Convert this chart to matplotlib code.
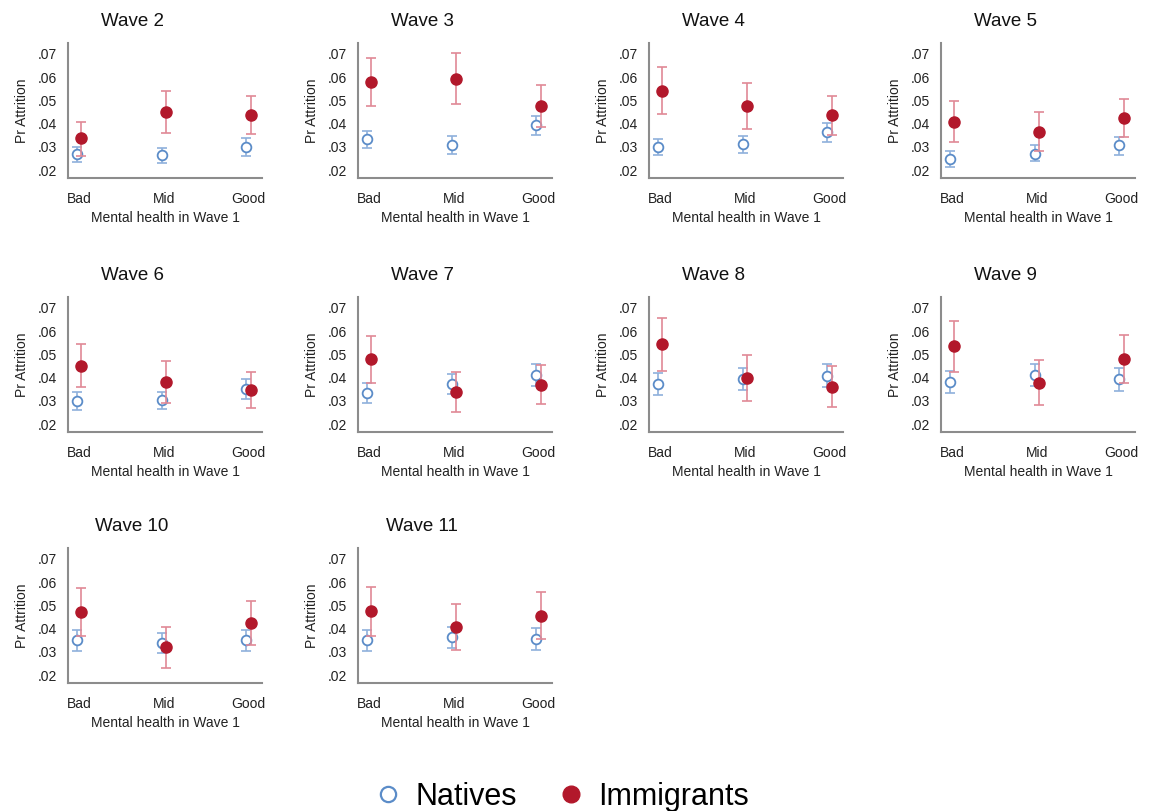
import numpy as np
import matplotlib
matplotlib.use("Agg")
import matplotlib.pyplot as plt
from matplotlib.lines import Line2D
from matplotlib.ticker import FuncFormatter

plt.rcParams['font.family'] = ['Liberation Sans', 'DejaVu Sans']

waves = ["Wave 2", "Wave 3", "Wave 4", "Wave 5", "Wave 6",
         "Wave 7", "Wave 8", "Wave 9", "Wave 10", "Wave 11"]
categories = ["Bad", "Mid", "Good"]

# predicted attrition probabilities with 95% CI bounds, one row per wave
natives = [
    [0.0268, 0.0263, 0.0301],
    [0.0334, 0.0308, 0.0395],
    [0.0298, 0.0312, 0.0363],
    [0.0248, 0.0271, 0.0307],
    [0.0299, 0.0304, 0.0351],
    [0.0335, 0.0371, 0.0412],
    [0.0373, 0.0393, 0.0409],
    [0.0382, 0.0412, 0.0395],
    [0.0349, 0.0339, 0.0349],
    [0.0349, 0.0363, 0.0356],
]
natives_lo = [
    [0.0233, 0.0229, 0.0262],
    [0.0294, 0.0271, 0.0351],
    [0.0263, 0.0274, 0.0321],
    [0.0214, 0.0238, 0.0267],
    [0.0261, 0.0265, 0.0308],
    [0.0292, 0.0328, 0.0364],
    [0.0325, 0.0347, 0.0361],
    [0.0335, 0.0364, 0.0344],
    [0.0303, 0.0296, 0.0303],
    [0.0303, 0.0317, 0.0310],
]
natives_hi = [
    [0.0301, 0.0297, 0.0337],
    [0.0369, 0.0345, 0.0434],
    [0.0334, 0.0348, 0.0402],
    [0.0281, 0.0307, 0.0343],
    [0.0337, 0.0340, 0.0393],
    [0.0376, 0.0415, 0.0458],
    [0.0419, 0.0441, 0.0458],
    [0.0429, 0.0459, 0.0441],
    [0.0393, 0.0381, 0.0393],
    [0.0396, 0.0406, 0.0403],
]
immigrants = [
    [0.0337, 0.0448, 0.0436],
    [0.0581, 0.0593, 0.0477],
    [0.0541, 0.0476, 0.0437],
    [0.0409, 0.0366, 0.0423],
    [0.0452, 0.0380, 0.0347],
    [0.0480, 0.0340, 0.0369],
    [0.0543, 0.0399, 0.0361],
    [0.0534, 0.0379, 0.0480],
    [0.0471, 0.0320, 0.0424],
    [0.0474, 0.0406, 0.0456],
]
immigrants_lo = [
    [0.0260, 0.0358, 0.0354],
    [0.0476, 0.0484, 0.0387],
    [0.0440, 0.0379, 0.0351],
    [0.0321, 0.0281, 0.0341],
    [0.0358, 0.0292, 0.0268],
    [0.0379, 0.0250, 0.0285],
    [0.0429, 0.0299, 0.0273],
    [0.0425, 0.0282, 0.0376],
    [0.0367, 0.0231, 0.0331],
    [0.0367, 0.0306, 0.0356],
]
immigrants_hi = [
    [0.0409, 0.0539, 0.0517],
    [0.0684, 0.0703, 0.0566],
    [0.0642, 0.0575, 0.0521],
    [0.0497, 0.0450, 0.0507],
    [0.0546, 0.0471, 0.0425],
    [0.0578, 0.0426, 0.0454],
    [0.0655, 0.0497, 0.0451],
    [0.0645, 0.0475, 0.0582],
    [0.0577, 0.0406, 0.0520],
    [0.0579, 0.0506, 0.0556],
]
yticks = [0.02, 0.03, 0.04, 0.05, 0.06, 0.07]

NAT_COLOR = "#5b8cc8"
NAT_ERR = "#8fb0dc"
IMM_COLOR = "#b2182b"
IMM_ERR = "#e08996"
SPINE = "#8c8c8c"

W, H = 1150, 811
fig = plt.figure(figsize=(W / 100, H / 100), dpi=100)

lefts = [68, 358, 649, 941]
tops = [43, 297, 548]
ax_w, ax_h = 194, 135

x = np.arange(len(categories))
off = 0.025
fmt = FuncFormatter(lambda v, _: ("%.2f" % v).lstrip("0"))

for i, wave in enumerate(waves):
    r, c = divmod(i, 4)
    ax = fig.add_axes([lefts[c] / W, 1 - (tops[r] + ax_h) / H, ax_w / W, ax_h / H])

    n = np.array(natives[i])
    m = np.array(immigrants[i])
    n_err = [n - np.array(natives_lo[i]), np.array(natives_hi[i]) - n]
    m_err = [m - np.array(immigrants_lo[i]), np.array(immigrants_hi[i]) - m]

    ax.errorbar(x - off, n, yerr=n_err, fmt="none", ecolor=NAT_ERR,
                elinewidth=1.2, capsize=3.5, capthick=1.2, zorder=2)
    ax.plot(x - off, n, "o", ms=7, mfc="white", mec=NAT_COLOR, mew=1.3,
            linestyle="none", zorder=3)
    ax.errorbar(x + off, m, yerr=m_err, fmt="none", ecolor=IMM_ERR,
                elinewidth=1.2, capsize=3.5, capthick=1.2, zorder=4)
    ax.plot(x + off, m, "o", ms=8, color=IMM_COLOR, linestyle="none", zorder=5)

    ax.set_xlim(-0.13, 2.16)
    ax.set_ylim(0.0166, 0.0747)
    ax.set_xticks(x)
    ax.set_xticklabels(categories)
    ax.set_yticks(yticks)
    ax.yaxis.set_major_formatter(fmt)
    ax.tick_params(axis="both", length=0, labelsize=10, colors="#222222")
    ax.tick_params(axis="y", pad=8)
    ax.tick_params(axis="x", pad=10)
    for side in ("top", "right"):
        ax.spines[side].set_visible(False)
    for side in ("left", "bottom"):
        ax.spines[side].set_color(SPINE)
        ax.spines[side].set_linewidth(1.5)

    ax.set_title(wave, fontsize=13.5, pad=12, color="#111111", x=0.33)
    ax.set_xlabel("Mental health in Wave 1", fontsize=10, labelpad=4, color="#222222")
    ax.set_ylabel("Pr Attrition", fontsize=10, labelpad=6, color="#222222")

handles = [
    Line2D([], [], marker="o", ls="none", ms=11, mfc="white", mec=NAT_COLOR, mew=1.6),
    Line2D([], [], marker="o", ls="none", ms=12, color=IMM_COLOR),
]
fig.legend(handles, ["Natives", "Immigrants"], loc="center", ncol=2,
           bbox_to_anchor=(561 / W, 1 - 797 / H), frameon=False, fontsize=22,
           handlelength=1.0, handletextpad=0.4, columnspacing=1.25)

fig.savefig("out.png", dpi=100, facecolor="white")
